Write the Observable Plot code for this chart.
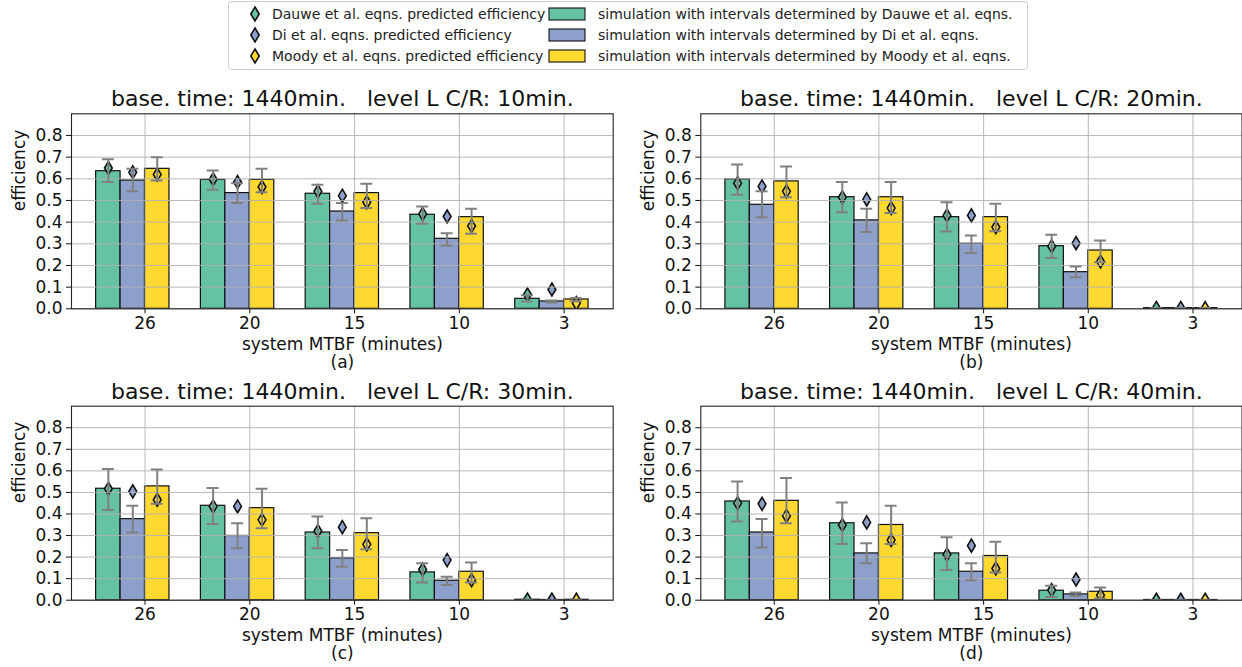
<!DOCTYPE html>
<html><head><meta charset="utf-8">
<script src="https://cdn.jsdelivr.net/npm/d3@7"></script>
<script src="https://cdn.jsdelivr.net/npm/@observablehq/plot@0.6"></script>
<style>
body{margin:0;background:#fff;}
#root{position:relative;width:1242px;height:667px;overflow:hidden;font-family:"DejaVu Sans",sans-serif;background:#fff;}
.panel{position:absolute;}
#legend{position:absolute;left:228px;top:1px;}
</style></head>
<body><div id="root"></div>
<script>
// ---------------- data ----------------
const mtbf = ["26", "20", "15", "10", "3"];
const methods = ["Dauwe et al.", "Di et al.", "Moody et al."];
const crMinutes = [10, 20, 30, 40];
const panelTags = ["(a)", "(b)", "(c)", "(d)"];
const baseTime = 1440;
const setColors = ["#66c2a5", "#8da0cb", "#ffd92f"];

// rows: Dauwe, Di, Moody ; columns: MTBF 26,20,15,10,3
const cr10_sim  = [[0.635,0.595,0.531,0.434,0.046],[0.592,0.534,0.449,0.323,0.034],[0.646,0.595,0.534,0.423,0.043]];
const cr10_lo   = [[0.585,0.549,0.485,0.392,0.034],[0.543,0.488,0.408,0.292,0.029],[0.592,0.538,0.465,0.346,0.035]];
const cr10_hi   = [[0.690,0.638,0.572,0.472,0.062],[0.646,0.580,0.488,0.349,0.038],[0.700,0.646,0.577,0.462,0.050]];
const cr10_pred = [[0.650,0.598,0.542,0.438,0.066],[0.630,0.585,0.522,0.426,0.089],[0.620,0.562,0.492,0.382,0.026]];

const cr20_sim  = [[0.597,0.515,0.423,0.289,0.003],[0.480,0.408,0.300,0.169,0.003],[0.588,0.515,0.423,0.269,0.003]];
const cr20_lo   = [[0.526,0.446,0.357,0.234,0.003],[0.423,0.354,0.257,0.146,0.003],[0.515,0.442,0.358,0.215,0.003]];
const cr20_hi   = [[0.666,0.585,0.492,0.342,0.003],[0.543,0.462,0.338,0.195,0.003],[0.657,0.585,0.485,0.315,0.003]];
const cr20_pred = [[0.580,0.515,0.431,0.289,0.004],[0.565,0.505,0.431,0.303,0.004],[0.542,0.465,0.377,0.218,0.003]];

const cr30_sim  = [[0.517,0.438,0.314,0.129,0.002],[0.376,0.298,0.194,0.090,0.001],[0.528,0.427,0.311,0.132,0.002]];
const cr30_lo   = [[0.419,0.354,0.241,0.082,0.002],[0.314,0.241,0.155,0.070,0.001],[0.447,0.334,0.236,0.082,0.002]];
const cr30_hi   = [[0.609,0.520,0.388,0.171,0.002],[0.438,0.357,0.233,0.109,0.001],[0.606,0.517,0.380,0.175,0.002]];
const cr30_pred = [[0.517,0.435,0.321,0.143,0.003],[0.505,0.435,0.339,0.186,0.003],[0.466,0.373,0.259,0.093,0.002]];

const cr40_sim  = [[0.458,0.357,0.217,0.044,0.001],[0.314,0.217,0.132,0.027,0.001],[0.461,0.349,0.205,0.039,0.001]];
const cr40_lo   = [[0.365,0.261,0.140,0.015,0.001],[0.245,0.171,0.093,0.019,0.001],[0.357,0.261,0.128,0.008,0.001]];
const cr40_hi   = [[0.551,0.453,0.292,0.067,0.001],[0.377,0.264,0.171,0.036,0.001],[0.567,0.438,0.271,0.059,0.001]];
const cr40_pred = [[0.450,0.349,0.212,0.047,0.002],[0.447,0.361,0.253,0.096,0.002],[0.391,0.279,0.147,0.023,0.002]];

const yTicks = [0, 0.1, 0.2, 0.3, 0.4, 0.5, 0.6, 0.7, 0.8];

// ---------------- layout ----------------
const panelData = [
  {sim: cr10_sim, lo: cr10_lo, hi: cr10_hi, pred: cr10_pred},
  {sim: cr20_sim, lo: cr20_lo, hi: cr20_hi, pred: cr20_pred},
  {sim: cr30_sim, lo: cr30_lo, hi: cr30_hi, pred: cr30_pred},
  {sim: cr40_sim, lo: cr40_lo, hi: cr40_hi, pred: cr40_pred}
];
const layout = [
  {left: 0,   top: 80,  width: 620, height: 295, mt: 33.3, mb: 66.7, ml: 71,   mr: 7.3},
  {left: 620, top: 80,  width: 622, height: 295, mt: 33.3, mb: 66.7, ml: 80.3, mr: 0.5},
  {left: 0,   top: 370, width: 620, height: 297, mt: 35.7, mb: 67.3, ml: 71,   mr: 7.3},
  {left: 620, top: 370, width: 622, height: 297, mt: 35.7, mb: 67.3, ml: 80.3, mr: 0.5}
];

const barW = 0.7 / 3;
const offsets = [-2 * barW, -barW, 0];
const xMin = -2 * barW - 0.05 * (4 + 3 * barW);
const xMax = 4 + barW + 0.05 * (4 + 3 * barW);
const capHalf = 0.057;

const thinDiamond = {
  draw(ctx, size) {
    const r = Math.sqrt(size / Math.PI);
    const w = r * 0.6;
    ctx.moveTo(0, -r); ctx.lineTo(w, 0); ctx.lineTo(0, r); ctx.lineTo(-w, 0); ctx.closePath();
  }
};

const root = document.getElementById("root");

panelData.forEach((pd, p) => {
  const L = layout[p];
  const rows = [];
  for (let s = 0; s < 3; s++) for (let i = 0; i < mtbf.length; i++) {
    rows.push({s, i, x1: i + offsets[s], x2: i + offsets[s] + barW, xc: i + offsets[s] + barW / 2,
      sim: pd.sim[s][i], lo: pd.lo[s][i], hi: pd.hi[s][i], pred: pd.pred[s][i]});
  }
  const title = `base. time: ${baseTime}min.   level L C/R: ${crMinutes[p]}min.`;
  const chart = Plot.plot({
    width: L.width, height: L.height,
    marginTop: L.mt, marginBottom: L.mb, marginLeft: L.ml, marginRight: L.mr,
    style: {fontFamily: "DejaVu Sans", background: "transparent", overflow: "visible", color: "#111"},
    x: {type: "linear", domain: [xMin, xMax]},
    y: {type: "linear", domain: [0, 0.9]},
    color: {type: "ordinal", domain: [0, 1, 2], range: setColors},
    marks: [
      Plot.rectY(rows, {x1: "x1", x2: "x2", y: "sim", fill: "s", stroke: "#111", strokeWidth: 1.2}),
      Plot.dot(rows, {x: "xc", y: "pred", fill: "s", stroke: "#111", strokeWidth: 1.6, r: 6.5, symbol: thinDiamond, clip: true}),
      Plot.gridY({ticks: yTicks, stroke: "#b0b0b0", strokeOpacity: 1, strokeWidth: 0.9}),
      Plot.gridX({ticks: [0, 1, 2, 3, 4], stroke: "#b0b0b0", strokeOpacity: 1, strokeWidth: 0.9}),
      Plot.ruleX(rows, {x: "xc", y1: "lo", y2: "hi", stroke: "#808080", strokeWidth: 2, clip: true}),
      Plot.ruleY(rows, {y: "lo", x1: d => d.xc - capHalf, x2: d => d.xc + capHalf, stroke: "#808080", strokeWidth: 2, clip: true}),
      Plot.ruleY(rows, {y: "hi", x1: d => d.xc - capHalf, x2: d => d.xc + capHalf, stroke: "#808080", strokeWidth: 2, clip: true}),
      Plot.frame({stroke: "#222", strokeWidth: 1.1}),
      Plot.axisY({ticks: yTicks, tickFormat: d3.format(".1f"), tickSize: 5, tickPadding: 4, fontSize: 17, label: null, color: "#111"}),
      Plot.axisX({ticks: [0, 1, 2, 3, 4], tickFormat: i => mtbf[i], tickSize: 5, tickPadding: 3, fontSize: 17, label: null, color: "#111"}),
      Plot.text([title], {frameAnchor: "top", dy: -7.5, lineAnchor: "bottom", fontSize: 22, fill: "#111"}),
      Plot.text(["system MTBF (minutes)"], {frameAnchor: "bottom", dy: 41, lineAnchor: "bottom", fontSize: 17, fill: "#111"}),
      Plot.text([panelTags[p]], {frameAnchor: "bottom", dy: 59, lineAnchor: "bottom", fontSize: 17, fill: "#111"}),
      Plot.text(["efficiency"], {frameAnchor: "left", dx: -52, rotate: -90, fontSize: 17, fill: "#111"})
    ]
  });
  const div = document.createElement("div");
  div.className = "panel";
  div.style.left = L.left + "px";
  div.style.top = L.top + "px";
  div.appendChild(chart);
  root.appendChild(div);
});

// ---------------- legend ----------------
const legW = 800, legH = 69;
const leg = d3.create("svg").attr("id", "legend").attr("width", legW).attr("height", legH)
  .style("font-family", "DejaVu Sans");
leg.append("rect").attr("x", 0.5).attr("y", 0.5).attr("width", legW - 1).attr("height", legH - 1)
  .attr("rx", 3).attr("fill", "#fff").attr("stroke", "#cccccc");
const rowY = [13, 34, 55];
methods.forEach((m, s) => {
  const y = rowY[s];
  leg.append("path").attr("d", "M0,-7L4.2,0L0,7L-4.2,0Z").attr("transform", `translate(27,${y})`)
    .attr("fill", setColors[s]).attr("stroke", "#111").attr("stroke-width", 1.6);
  leg.append("text").attr("x", 44).attr("y", y).attr("dy", "0.35em").attr("font-size", 14).attr("fill", "#222")
    .text(`${m} eqns. predicted efficiency`);
  leg.append("rect").attr("x", 321).attr("y", y - 6).attr("width", 36).attr("height", 12)
    .attr("fill", setColors[s]).attr("stroke", "#111").attr("stroke-width", 1.1);
  leg.append("text").attr("x", 370).attr("y", y).attr("dy", "0.35em").attr("font-size", 14).attr("fill", "#222")
    .text(`simulation with intervals determined by ${m} eqns.`);
});
root.appendChild(leg.node());
</script>
</body></html>
